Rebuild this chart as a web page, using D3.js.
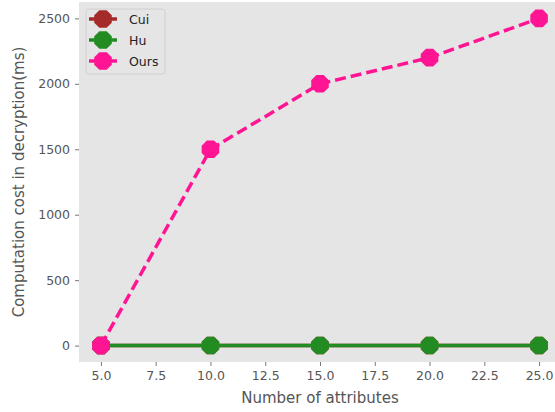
<!DOCTYPE html>
<html>
<head>
<meta charset="utf-8">
<script src="https://cdn.jsdelivr.net/npm/d3@7"></script>
<style>
  body { margin: 0; background: #fff; }
  svg { display: block; font-family: "DejaVu Sans", sans-serif; }
</style>
</head>
<body>
<div id="chart"></div>
<script>
// data
var attributes = [5, 10, 15, 20, 25]
var cuiCost = [1, 1, 1, 1, 1]
var huCost = [1, 1, 1, 1, 1]
var oursCost = [0, 1500, 2000, 2200, 2500]
var xTicks = [5, 7.5, 10, 12.5, 15, 17.5, 20, 22.5, 25]
var yTicks = [0, 500, 1000, 1500, 2000, 2500]

var series = [
  { name: "Cui", values: cuiCost, color: "#a52a2a", dash: null },
  { name: "Hu", values: huCost, color: "#228b22", dash: null },
  { name: "Ours", values: oursCost, color: "#ff1493", dash: "11,5" }
]

var width = 555
var height = 412
var plotLeft = 79, plotRight = 561, plotTop = 2, plotBottom = 362

var x = d3.scaleLinear().domain([4, 26]).range([plotLeft, plotRight])
var y = d3.scaleLinear().domain([-125, 2625]).range([plotBottom, plotTop])

var svg = d3.select("#chart")
  .append("svg")
  .attr("width", width)
  .attr("height", height)

svg.append("rect")
  .attr("x", plotLeft)
  .attr("y", plotTop)
  .attr("width", plotRight - plotLeft)
  .attr("height", plotBottom - plotTop)
  .style("fill", "#e5e5e5")

// axes
svg.append("g")
  .attr("transform", "translate(0," + plotBottom + ")")
  .call(d3.axisBottom(x).tickValues(xTicks).tickFormat(d3.format(".1f")).tickSizeOuter(0).tickSize(4).tickPadding(5))
svg.append("g")
  .attr("transform", "translate(" + plotLeft + ",0)")
  .call(d3.axisLeft(y).tickValues(yTicks).tickFormat(d3.format("d")).tickSizeOuter(0).tickSize(4).tickPadding(5))

svg.selectAll(".domain").remove()
svg.selectAll(".tick line").style("stroke", "#555").style("stroke-width", 0.8)
svg.selectAll(".tick text")
  .style("fill", "#555")
  .style("font-size", "12.5px")
  .style("font-family", "DejaVu Sans, sans-serif")

svg.append("text")
  .attr("x", (plotLeft + plotRight) / 2)
  .attr("y", 403)
  .attr("text-anchor", "middle")
  .style("fill", "#555")
  .style("font-size", "15px")
  .text("Number of attributes")

svg.append("text")
  .attr("transform", "translate(24," + (plotTop + plotBottom) / 2 + ") rotate(-90)")
  .attr("text-anchor", "middle")
  .style("fill", "#555")
  .style("font-size", "15px")
  .text("Computation cost in decryption(ms)")

// octagon marker
function octagon(r) {
  var pts = d3.range(8).map(function (i) {
    var a = Math.PI / 8 + i * Math.PI / 4
    return [r * Math.cos(a), r * Math.sin(a)]
  })
  return "M" + pts.join("L") + "Z"
}

var line = d3.line()
  .x(function (d) { return x(d[0]) })
  .y(function (d) { return y(d[1]) })

var plot = svg.append("g")

series.forEach(function (s) {
  var pts = attributes.map(function (a, i) { return [a, s.values[i]] })
  var g = plot.append("g")
  g.append("path")
    .attr("d", line(pts))
    .style("fill", "none")
    .style("stroke", s.color)
    .style("stroke-width", 3.5)
    .style("stroke-dasharray", s.dash)
  g.selectAll("path.mk")
    .data(pts)
    .enter()
    .append("path")
    .attr("class", "mk")
    .attr("transform", function (d) { return "translate(" + x(d[0]) + "," + y(d[1]) + ")" })
    .attr("d", octagon(9.5))
    .style("fill", s.color)
})

// legend
var legend = svg.append("g")
legend.append("rect")
  .attr("x", 86)
  .attr("y", 9)
  .attr("width", 79)
  .attr("height", 65)
  .attr("rx", 3)
  .style("fill", "#e5e5e5")
  .style("stroke", "#cccccc")
  .style("stroke-width", 0.8)

series.forEach(function (s, i) {
  var ly = 19 + i * 21
  legend.append("line")
    .attr("x1", 89).attr("x2", 117)
    .attr("y1", ly).attr("y2", ly)
    .style("stroke", s.color)
    .style("stroke-width", 3.5)
  legend.append("path")
    .attr("transform", "translate(103," + ly + ")")
    .attr("d", octagon(9.5))
    .style("fill", s.color)
  legend.append("text")
    .attr("x", 129)
    .attr("y", ly + 4.5)
    .style("fill", "#222")
    .style("font-size", "12.5px")
    .text(s.name)
})
</script>
</body>
</html>
